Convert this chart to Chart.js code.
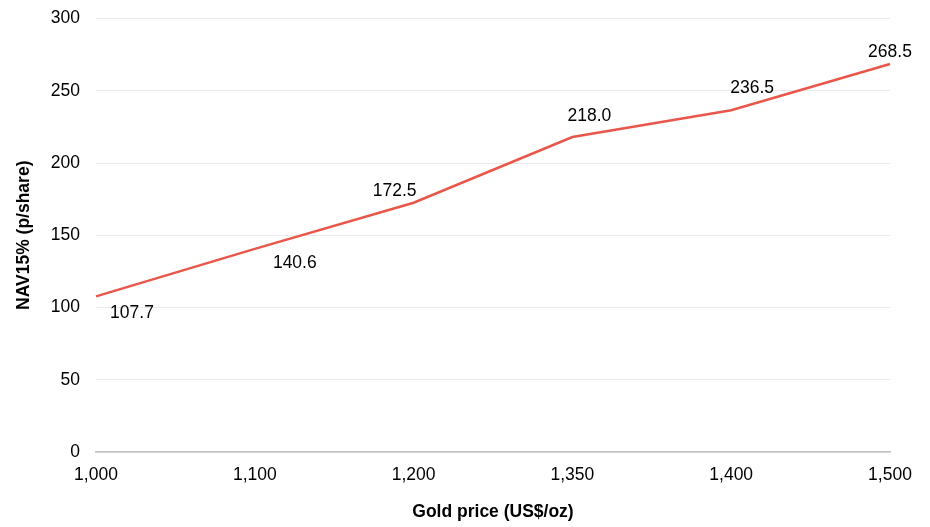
<!DOCTYPE html>
<html>
<head>
<meta charset="utf-8">
<script src="https://cdn.jsdelivr.net/npm/chart.js@4.4.1/dist/chart.umd.min.js"></script>
<style>
  html, body { margin: 0; padding: 0; background: #fff; }
  #wrap { width: 930px; height: 527px; }
</style>
</head>
<body>
<div id="wrap"><canvas id="navChart"></canvas></div>
<script>
const goldPrices = ['1,000', '1,100', '1,200', '1,350', '1,400', '1,500'];
const navValues = [107.7, 140.6, 172.5, 218.0, 236.5, 268.5];
const yTicks = [0, 50, 100, 150, 200, 250, 300];

// where each value label sits relative to its point (px)
const labelOffsets = [[36, 17], [40, 14], [-19, -12], [17, -21], [21, -22], [0, -12]];

const lineColor = '#E9574A';
const font = 'Liberation Sans, Arial, sans-serif';

const valueLabels = {
    id: 'valueLabels',
    afterDatasetsDraw(chart) {
        const ctx = chart.ctx;
        const meta = chart.getDatasetMeta(0);
        ctx.save();
        ctx.font = '17.5px ' + font;
        ctx.fillStyle = '#000';
        ctx.textAlign = 'center';
        ctx.textBaseline = 'middle';
        meta.data.forEach((pt, i) => {
            const off = labelOffsets[i];
            ctx.fillText(navValues[i].toFixed(1), pt.x + off[0], pt.y + off[1]);
        });
        ctx.restore();
    }
};

new Chart(document.getElementById('navChart'), {
    type: 'line',
    data: {
        labels: goldPrices,
        datasets: [{
            data: navValues,
            borderColor: lineColor,
            borderWidth: 2.5,
            pointRadius: 0,
            tension: 0,
            fill: false
        }]
    },
    options: {
        responsive: true,
        maintainAspectRatio: false,
        animation: false,
        layout: { padding: { left: 0, top: 18.5, right: 40, bottom: 0 } },
        plugins: {
            legend: { display: false },
            tooltip: { enabled: false }
        },
        scales: {
            x: {
                offset: false,
                grid: { display: false, drawTicks: false },
                border: { display: true, color: '#BFBFBF', width: 1.5 },
                ticks: {
                    color: '#000',
                    padding: 13,
                    maxRotation: 0,
                    autoSkip: false,
                    font: { family: font, size: 17.5 }
                },
                title: {
                    display: true,
                    text: 'Gold price (US$/oz)',
                    color: '#000',
                    padding: { top: 0, bottom: 4 },
                    font: { family: font, size: 17.5, weight: 'bold' }
                },
                afterFit(scale) {
                    scale.height = 75;
                    scale.paddingLeft = 0;
                    scale.paddingRight = 0;
                }
            },
            y: {
                min: 0,
                max: 300,
                afterBuildTicks(scale) {
                    scale.ticks = yTicks.map(v => ({ value: v }));
                },
                grid: { color: '#EAEAEA', lineWidth: 1, drawTicks: false },
                border: { display: false },
                ticks: {
                    color: '#000',
                    padding: 16,
                    font: { family: font, size: 17.5 }
                },
                title: {
                    display: true,
                    text: 'NAV15% (p/share)',
                    color: '#000',
                    padding: { top: 14, bottom: 0 },
                    font: { family: font, size: 17.5, weight: 'bold' }
                },
                afterFit(scale) {
                    scale.width = 96;
                    scale.paddingTop = 0;
                    scale.paddingBottom = 0;
                }
            }
        }
    },
    plugins: [valueLabels]
});
</script>
</body>
</html>
